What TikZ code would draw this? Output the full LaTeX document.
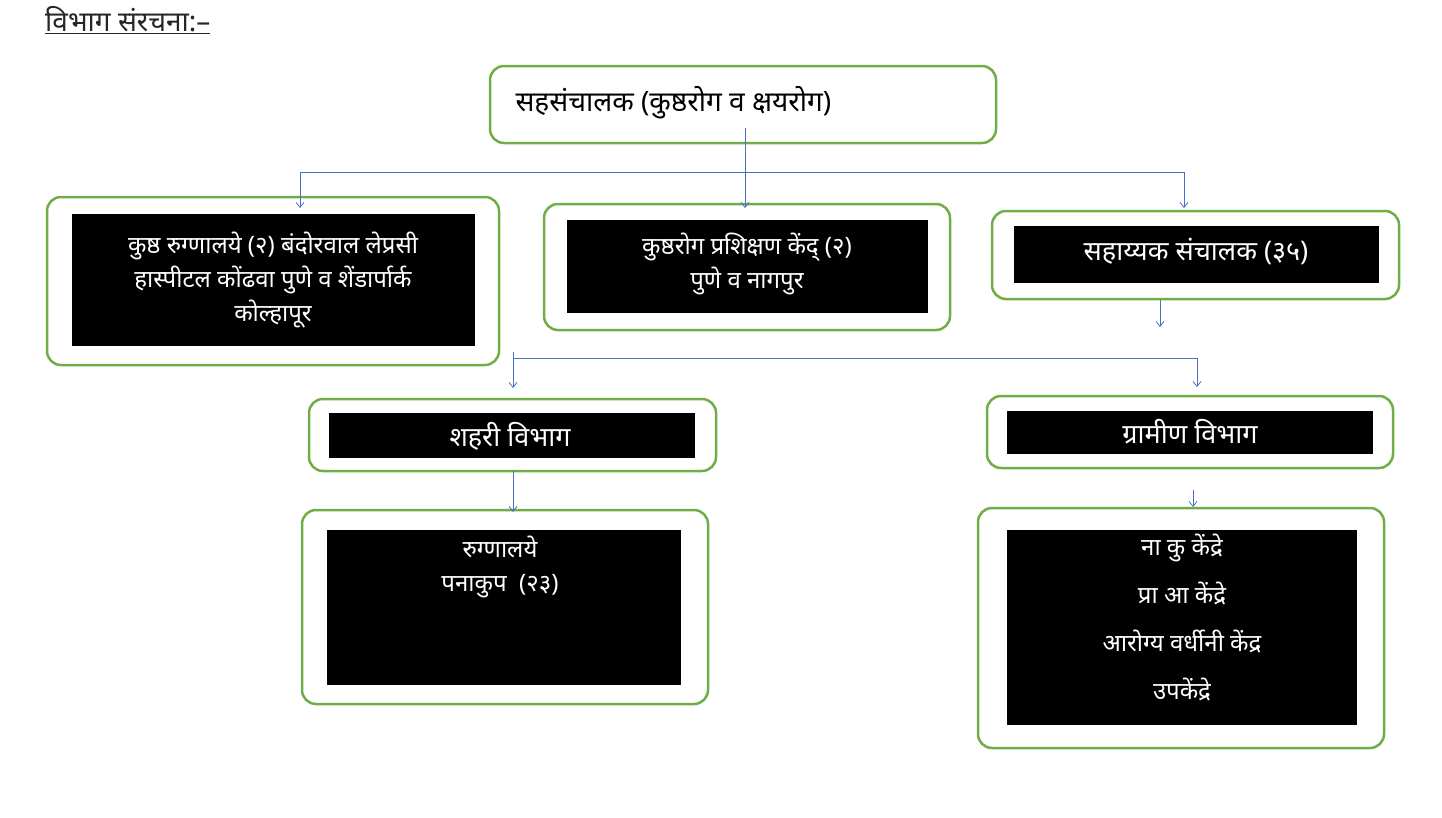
\documentclass[tikz,border=0pt]{standalone}
\usepackage{fontspec}
\newfontfamily\dev[Script=Devanagari]{Noto Sans}
\usetikzlibrary{arrows.meta}
\definecolor{grn}{HTML}{70AD47}
\definecolor{blu}{HTML}{4472C4}
\begin{document}
\begin{tikzpicture}[x=1pt,y=-1pt,
  gbox/.style={draw=grn,line width=2.5pt,rounded corners=14pt,fill=white},
  bbox/.style={fill=black},
  wtxt/.style={text=white,font=\dev\fontsize{24}{34}\selectfont,align=center},
  conn/.style={draw=blu,line width=0.8pt},
  arr/.style={conn,-{Straight Barb[length=5pt,width=8pt]}}]
\useasboundingbox (0,0) rectangle (1442,817);
\node[anchor=north west,inner sep=0pt,font=\dev\fontsize{28}{34}\selectfont,text=black!85] (title) at (45,6) {\underline{विभाग संरचना:–}};
% top
\draw[gbox] (490,66) rectangle (996,143);
\node[anchor=west,font=\dev\fontsize{28}{34}\selectfont] (top) at (512,103) {सहसंचालक (कुष्ठरोग व क्षयरोग)};
% box1
\draw[gbox] (47,197) rectangle (499,365);
\fill[bbox] (72,214) rectangle (475,346);
\node[wtxt] (b1) at (273,280) {कुष्ठ रुग्णालये (२) बंदोरवाल लेप्रसी\\हास्पीटल कोंढवा पुणे व शेंडार्पार्क\\कोल्हापूर};
% box2
\draw[gbox] (544,204) rectangle (950,330);
\fill[bbox] (567,220) rectangle (928,313);
\node[wtxt] (b2) at (747,264) {कुष्ठरोग प्रशिक्षण केंद् (२)\\पुणे व नागपुर};
% box3
\draw[gbox] (992,211) rectangle (1399,299);
\fill[bbox] (1014,226) rectangle (1379,283);
\node[wtxt,font=\dev\fontsize{27}{34}\selectfont] (b3) at (1196,251) {सहाय्यक संचालक (३५)};
% box4
\draw[gbox] (309,399) rectangle (716,471);
\fill[bbox] (329,413) rectangle (695,458);
\node[wtxt,font=\dev\fontsize{27}{34}\selectfont] (b4) at (510,436) {शहरी विभाग};
% box5
\draw[gbox] (987,396) rectangle (1393,468);
\fill[bbox] (1007,411) rectangle (1373,454);
\node[wtxt,font=\dev\fontsize{27}{34}\selectfont] (b5) at (1190,432) {ग्रामीण विभाग};
% box6
\draw[gbox] (302,510) rectangle (708,704);
\fill[bbox] (327,530) rectangle (681,685);
\node[wtxt,anchor=north] (b6) at (500,532) {रुग्णालये\\पनाकुप~~(२३)};
% box7
\draw[gbox] (978,508) rectangle (1384,748);
\fill[bbox] (1007,530) rectangle (1357,725);
\node[wtxt,font=\dev\fontsize{24}{48}\selectfont,anchor=north] (b7) at (1182,530) {ना कु केंद्रे\\प्रा आ केंद्रे\\आरोग्य वर्धीनी केंद्र\\उपकेंद्रे};
% connectors
\coordinate (c0) at (745,128); \coordinate (c0e) at (745,208);
\coordinate (hl) at (300,172); \coordinate (hr) at (1184,172);
\coordinate (a1) at (300,208); \coordinate (a3) at (1184,208);
\draw[arr] (c0) -- (c0e);
\draw[arr] (hl) -- (a1);
\draw[arr] (hr) -- (a3);
\draw[conn] (hl) -- (hr);
\coordinate (d0) at (1160,300); \coordinate (d0e) at (1160,327);
\draw[arr] (d0) -- (d0e);
\coordinate (e0) at (513,352); \coordinate (e1) at (513,388);
\coordinate (er) at (1197,358); \coordinate (er2) at (1197,387);
\draw[arr] (e0) -- (e1);
\draw[conn] (513,358) -- (er);
\draw[arr] (er) -- (er2);
\coordinate (f0) at (513,471); \coordinate (f1) at (513,512);
\draw[arr] (f0) -- (f1);
\coordinate (g0) at (1193,490); \coordinate (g1) at (1193,507);
\draw[arr] (g0) -- (g1);
\end{tikzpicture}
\end{document}
